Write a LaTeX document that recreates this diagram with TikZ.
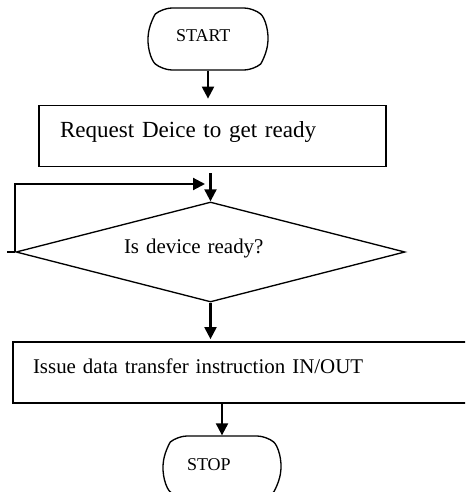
\documentclass[tikz,border=0pt]{standalone}
\usepackage{fontspec}
\setmainfont{Liberation Serif}
\usetikzlibrary{shapes.misc,shapes.geometric,arrows.meta}

\tikzset{
	terminal/.style={draw, rounded rectangle, rounded rectangle arc length=100, rounded corners=7pt, line width=1pt,
		font=\fontsize{13.5}{15}\selectfont, align=left, text height=9.5pt, text depth=5pt, inner sep=0pt},
	process/.style={draw, rectangle, line width=1.3pt, minimum height=45.75pt,
		align=left, text height=12pt, text depth=9.5pt, inner sep=0pt},
	decision/.style={draw, diamond, shape aspect=3.89, line width=1pt, minimum width=291.75pt, minimum height=75pt,
		font=\fontsize{15.7}{18}\selectfont, align=left, text height=11pt, text depth=9.5pt, inner sep=0pt},
	flow/.style={line width=1.6pt, -{Triangle[length=9pt,width=9pt]}}
}

\begin{document}
\begin{tikzpicture}[x=0.75pt,y=0.75pt,yscale=-1,xscale=1]
	\useasboundingbox (0,0) rectangle (465,492);
	\clip (0,0) rectangle (465,492);

	%Shape: Terminal [id:start]
	\node [terminal, minimum width=90pt, minimum height=46.5pt, text width=48pt] (start) at (208,39) {START};
	%Shape: Rectangle [id:req]
	\node [process, font=\fontsize{17.3}{20}\selectfont, minimum width=260.25pt, text width=228.75pt] (req) at (212.5,136) {Request Deice to get ready};
	%Shape: Diamond [id:ready]
	\node [decision, text width=129.75pt] (ready) at (210.5,252) {Is device ready?};
	%Shape: Rectangle [id:io]
	\node [process, font=\fontsize{15.7}{18}\selectfont, text height=11pt, minimum width=343.5pt, text width=313.5pt] (io) at (242,372.5) {Issue data transfer instruction IN/OUT};
	%Shape: Terminal [id:stop]
	\node [terminal, minimum width=88.5pt, minimum height=46.5pt, text width=52.5pt] (stop) at (222,467) {STOP};

	%Straight Lines
	\draw [flow, shorten >=4.5pt] (start.south) -- (start.south |- req.north);
	\draw [flow, shorten <=4.5pt] (req.south -| ready.north) -- (ready.north);
	\draw [flow, shorten >=1.5pt] (ready.south) -- (ready.south |- io.north);
	\draw [flow] (io.south -| stop.north) -- (stop.north);

	%Loop back
	\coordinate (loopin) at (205,184);
	\draw [line width=1.6pt] (ready.west) -- ++(-8,0);
	\draw [flow] (ready.west) |- (loopin);

\end{tikzpicture}
\end{document}
